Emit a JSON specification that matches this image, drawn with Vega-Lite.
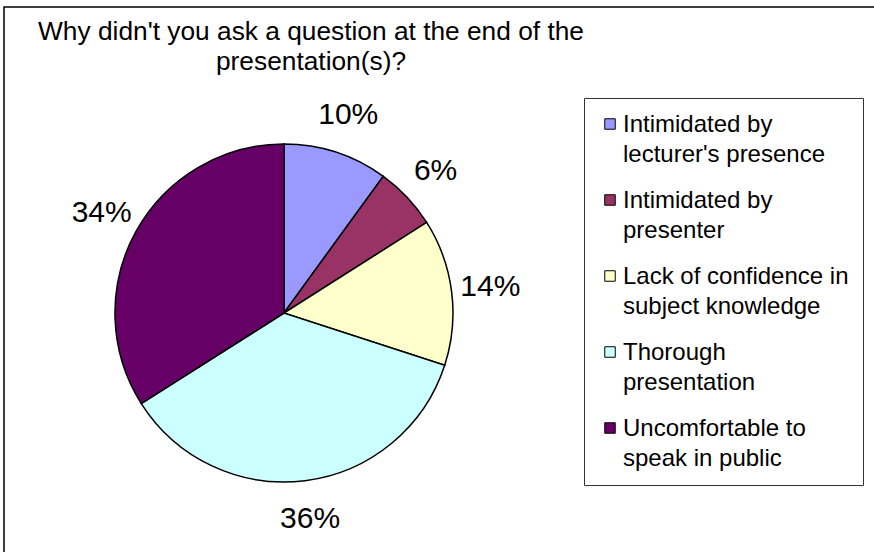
{
  "$schema": "https://vega.github.io/schema/vega-lite/v6.json",
  "width": 873,
  "height": 548,
  "autosize": {"type": "none"},
  "padding": {"left": 4, "top": 7, "right": -3, "bottom": -3},
  "background": "white",
  "title": {
    "text": ["Why didn't you ask a question at the end of the", "presentation(s)?"],
    "anchor": "start",
    "frame": "group",
    "align": "center",
    "baseline": "top",
    "dx": 307,
    "dy": 68,
    "offset": 0,
    "fontSize": 26.3,
    "lineHeight": 30,
    "font": "Liberation Sans",
    "fontWeight": "normal",
    "color": "#000"
  },
  "data": {
    "values": [
      {"category": "Intimidated by lecturer's presence", "share": 0.10, "order": 1},
      {"category": "Intimidated by presenter", "share": 0.06, "order": 2},
      {"category": "Lack of confidence in subject knowledge", "share": 0.14, "order": 3},
      {"category": "Thorough presentation", "share": 0.36, "order": 4},
      {"category": "Uncomfortable to speak in public", "share": 0.34, "order": 5}
    ]
  },
  "encoding": {
    "theta": {"field": "share", "type": "quantitative", "stack": true},
    "order": {"field": "order", "type": "quantitative"},
    "x": {"datum": "pie", "type": "nominal", "scale": {"type": "point", "align": 0.3207}, "axis": null},
    "y": {"datum": "pie", "type": "nominal", "scale": {"type": "point", "align": 0.5584}, "axis": null}
  },
  "layer": [
    {
      "mark": {"type": "arc", "outerRadius": 169, "stroke": "#000", "strokeWidth": 1.5},
      "encoding": {
        "color": {
          "field": "category",
          "type": "nominal",
          "scale": {
            "domain": [
              "Intimidated by lecturer's presence",
              "Intimidated by presenter",
              "Lack of confidence in subject knowledge",
              "Thorough presentation",
              "Uncomfortable to speak in public"
            ],
            "range": ["#9999FF", "#993366", "#FFFFCC", "#CCFFFF", "#660066"]
          },
          "legend": {
            "labelExpr": "datum.label == 'Intimidated by presenter' ? ['Intimidated by', 'presenter'] : datum.label == 'Lack of confidence in subject knowledge' ? ['Lack of confidence in', 'subject knowledge'] : datum.label == 'Thorough presentation' ? ['Thorough', 'presentation'] : datum.label == 'Uncomfortable to speak in public' ? ['Uncomfortable to', 'speak in public'] : ['Intimidated by', \"lecturer's presence\"]",
            "encode": {"labels": {"update": {"dy": {"value": 8}, "lineHeight": {"value": 30}}}}
          }
        }
      }
    },
    {
      "mark": {"type": "text", "radius": 208, "fontSize": 30, "font": "Liberation Sans", "color": "#000"},
      "encoding": {
        "detail": {"field": "category"},
        "text": {"field": "share", "type": "quantitative", "format": ".0%"}
      }
    }
  ],
  "config": {
    "view": {"stroke": "#000", "strokeWidth": 1.5},
    "font": "Liberation Sans",
    "legend": {
      "orient": "none",
      "legendX": 580,
      "legendY": 91,
      "title": null,
      "strokeColor": "#333",
      "strokeWidth": 1,
      "fillColor": "white",
      "padding": 14,
      "symbolType": "square",
      "symbolSize": 110,
      "symbolStrokeColor": "#000",
      "symbolStrokeWidth": 1,
      "labelFont": "Liberation Sans",
      "labelFontSize": 24,
      "labelColor": "#000",
      "labelBaseline": "alphabetic",
      "labelLimit": 0,
      "labelOffset": 1,
      "rowPadding": 21
    }
  }
}
